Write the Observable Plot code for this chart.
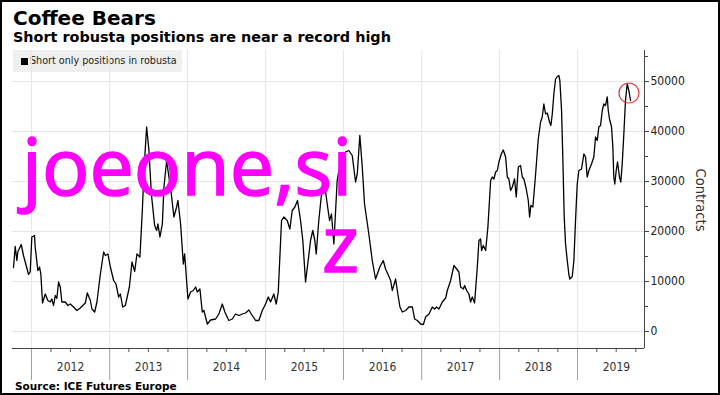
<!DOCTYPE html>
<html>
<head>
<meta charset="utf-8">
<script src="https://cdn.jsdelivr.net/npm/d3@7"></script>
<script src="https://cdn.jsdelivr.net/npm/@observablehq/plot@0.6"></script>
<style>
  html, body { margin: 0; padding: 0; background: #fff; }
  #wrap { position: relative; width: 720px; height: 395px; overflow: hidden; background: #fff; }
  #wrap > * { position: absolute; }
  .t { font-family: "DejaVu Sans", sans-serif; line-height: 1; white-space: nowrap; color: #000; }
  #title { left: 13px; top: 8px; font-size: 20px; font-weight: bold; }
  #subtitle { left: 13px; top: 30px; font-size: 14.4px; font-weight: bold; }
  #source { left: 15px; top: 381px; font-size: 10.5px; font-weight: bold; }
  #legend { left: 13px; top: 50px; width: 169px; height: 22px; background: #efefef; }
  #legend .sw { position: absolute; left: 8px; top: 8px; width: 7px; height: 7px; background: #000; }
  #legend .lab { position: absolute; left: 17px; top: 6px; font-family: "DejaVu Sans Condensed", "DejaVu Sans", sans-serif; font-stretch: condensed; font-size: 10.7px; line-height: 1; color: #222; white-space: nowrap; }
  #ylabel { left: 701px; top: 200px; transform: translate(-50%, -50%) rotate(90deg); font-family: "DejaVu Sans Condensed", "DejaVu Sans", sans-serif; font-stretch: condensed; font-size: 14.5px; line-height: 1; color: #333; white-space: nowrap; }
  #frame { left: 0; top: 0; width: 720px; height: 395px; box-sizing: border-box; border: 2px solid #000; pointer-events: none; }
  #mark { left: 0; top: 0; }
  #err { left: 20px; top: 300px; font: 11px monospace; color: #c00; white-space: pre; }
</style>
</head>
<body>
<div id="wrap">
  <div id="legend"><span class="sw"></span><span class="lab">Short only positions in robusta</span></div>
  <div id="chart" style="left:0;top:0;width:720px;height:395px"></div>
  <div id="title" class="t">Coffee Bears</div>
  <div id="subtitle" class="t">Short robusta positions are near a record high</div>
  <div id="source" class="t">Source: ICE Futures Europe</div>
  <div id="ylabel">Contracts</div>
  <svg id="mark" width="720" height="395">
    <text font-family="Open Sans" font-size="79" fill="#ff00ff" stroke="#ff00ff" stroke-width="1.6"><tspan x="22" y="195">joeone,si</tspan><tspan x="322" y="272">z</tspan></text>
  </svg>
  <div id="frame"></div>
  <div id="err"></div>
</div>
<script>
// Dates as decimal years, short-only positions in robusta (contracts)
const dates = [
  2011.769, 2011.791, 2011.812, 2011.824, 2011.868, 2011.897, 2011.962, 2011.983, 2012.004, 2012.038,
  2012.047, 2012.081, 2012.103, 2012.119, 2012.141, 2012.176, 2012.209, 2012.240, 2012.260, 2012.282,
  2012.304, 2012.324, 2012.346, 2012.368, 2012.388, 2012.432, 2012.465, 2012.496, 2012.538, 2012.581,
  2012.624, 2012.688, 2012.714, 2012.753, 2012.773, 2012.808, 2012.837, 2012.881, 2012.923, 2012.945,
  2012.978, 2013.009, 2013.051, 2013.081, 2013.115, 2013.137, 2013.167, 2013.201, 2013.253, 2013.286,
  2013.321, 2013.350, 2013.388, 2013.419, 2013.440, 2013.474, 2013.504, 2013.535, 2013.577, 2013.603,
  2013.619, 2013.645, 2013.676, 2013.696, 2013.731, 2013.760, 2013.791, 2013.824, 2013.859, 2013.876,
  2013.910, 2013.945, 2013.962, 2014.004, 2014.038, 2014.073, 2014.103, 2014.124, 2014.158, 2014.188,
  2014.209, 2014.253, 2014.295, 2014.359, 2014.401, 2014.445, 2014.478, 2014.529, 2014.573, 2014.615,
  2014.658, 2014.701, 2014.744, 2014.786, 2014.817, 2014.872, 2014.914, 2014.958, 2015.000, 2015.035,
  2015.064, 2015.106, 2015.137, 2015.163, 2015.205, 2015.235, 2015.278, 2015.312, 2015.342, 2015.376,
  2015.410, 2015.449, 2015.478, 2015.513, 2015.547, 2015.577, 2015.606, 2015.632, 2015.650, 2015.683,
  2015.718, 2015.747, 2015.791, 2015.821, 2015.846, 2015.876, 2015.919, 2015.962, 2016.013, 2016.068,
  2016.112, 2016.154, 2016.176, 2016.209, 2016.240, 2016.269, 2016.324, 2016.368, 2016.410, 2016.465,
  2016.509, 2016.538, 2016.568, 2016.603, 2016.624, 2016.667, 2016.688, 2016.722, 2016.753, 2016.795,
  2016.837, 2016.881, 2016.910, 2016.945, 2016.987, 2017.022, 2017.051, 2017.094, 2017.137, 2017.167,
  2017.192, 2017.222, 2017.265, 2017.308, 2017.329, 2017.372, 2017.414, 2017.449, 2017.478, 2017.500,
  2017.535, 2017.551, 2017.577, 2017.606, 2017.628, 2017.650, 2017.679, 2017.714, 2017.735, 2017.756,
  2017.769, 2017.791, 2017.821, 2017.850, 2017.885, 2017.906, 2017.927, 2017.949, 2017.971, 2017.991,
  2018.022, 2018.047, 2018.077, 2018.099, 2018.119, 2018.141, 2018.163, 2018.192, 2018.214, 2018.240,
  2018.269, 2018.291, 2018.312, 2018.342, 2018.368, 2018.385, 2018.401, 2018.427, 2018.462, 2018.496,
  2018.526, 2018.547, 2018.568, 2018.590, 2018.612, 2018.641, 2018.658, 2018.676, 2018.696, 2018.718,
  2018.740, 2018.760, 2018.773, 2018.795, 2018.812, 2018.829, 2018.846, 2018.868, 2018.888, 2018.901,
  2018.932, 2018.953, 2018.974, 2018.996, 2019.017, 2019.051, 2019.081, 2019.103, 2019.124, 2019.145,
  2019.179, 2019.209, 2019.231, 2019.253, 2019.273, 2019.295, 2019.317, 2019.337, 2019.359, 2019.381,
  2019.394, 2019.410, 2019.436, 2019.453, 2019.465, 2019.478, 2019.496, 2019.513, 2019.538, 2019.555,
  2019.573, 2019.594, 2019.615, 2019.637, 2019.658, 2019.680
];
const contracts = [
  12800, 17000, 14200, 15900, 17400, 15200, 11400, 11900, 18900, 19200,
  16900, 12200, 12900, 11500, 5700, 7500, 6200, 5900, 6500, 5200,
  7200, 6600, 9900, 8900, 5900, 5900, 5200, 5500, 4900, 4200,
  4700, 5700, 7700, 6200, 4500, 3900, 5900, 11500, 15900, 15200,
  15500, 12900, 10200, 9500, 6900, 7500, 4900, 5200, 8900, 13900,
  12000, 15500, 14900, 24200, 32200, 40900, 36200, 27500, 21200, 20200,
  21500, 18900, 21500, 28900, 34200, 30900, 27500, 22900, 24900, 26200,
  21500, 13500, 15500, 6500, 7900, 8200, 8900, 7900, 8500, 3900,
  4200, 1500, 2300, 2500, 3500, 5500, 3900, 2200, 2500, 3500,
  3200, 3500, 3700, 4300, 3500, 2200, 2200, 4200, 5500, 6900,
  5900, 7500, 5500, 7900, 22200, 22900, 22200, 20500, 24200, 24900,
  26200, 22200, 18200, 9900, 14200, 18200, 20200, 18200, 15500, 22200,
  27500, 30900, 25500, 22200, 23500, 17500, 30200, 34000, 35800, 36200,
  35200, 29900, 31500, 39200, 32900, 25500, 19500, 14200, 10500, 12900,
  14200, 12500, 11500, 10200, 8200, 10500, 8200, 4900, 3900, 4200,
  4900, 4900, 2500, 2200, 1500, 1400, 2900, 3500, 4900, 4500,
  4900, 4500, 5900, 6700, 8200, 10200, 13200, 12500, 11900, 8900,
  8500, 9200, 8200, 7500, 5900, 6900, 5700, 12900, 18200, 18500,
  16200, 17200, 16200, 20900, 30200, 30900, 30500, 31900, 32200, 33900,
  35500, 36300, 34900, 30900, 30500, 28200, 28900, 30500, 26900, 32900,
  33200, 30900, 30500, 28500, 26200, 22900, 25200, 24900, 31500, 38500,
  41900, 42900, 45500, 43500, 43700, 41900, 41200, 43500, 47500, 50500,
  51000, 51200, 50200, 44200, 34200, 22900, 17500, 14200, 11500, 10500,
  11000, 14200, 22200, 29500, 32200, 32500, 35500, 34900, 30900, 32200,
  33500, 34900, 38900, 38200, 40900, 41200, 44200, 45500, 45200, 46900,
  44200, 42500, 40900, 36900, 30900, 29500, 32200, 33900, 30900, 29900,
  33500, 39500, 46200, 49500, 48200, 46200
];
const years = [2012, 2013, 2014, 2015, 2016, 2017, 2018, 2019];
const yTicks = [0, 10000, 20000, 30000, 40000, 50000];
const yMinor = [5000, 15000, 25000, 35000, 45000, 55000];
const xDomainYears = [2011.756, 2019.859];
const yDomain = [-3400, 56200];
const highlightDate = [2019.660];
const highlightValue = [47700];

function toDate(t) {
  const y = Math.floor(t);
  const s = Date.UTC(y, 0, 1), e = Date.UTC(y + 1, 0, 1);
  return new Date(s + (t - y) * (e - s));
}

try {
  const rows = dates.map((t, i) => ({date: toDate(t), value: contracts[i]}));
  const highlight = highlightDate.map((t, i) => ({date: toDate(t), value: highlightValue[i]}));
  const xDomain = xDomainYears.map(toDate);
  const yearStarts = years.map(y => new Date(Date.UTC(y, 0, 1)));
  const midYears = years.map(y => new Date(Date.UTC(y, 6, 2)));
  const quarters = d3.utcMonth.every(3).range(xDomain[0], xDomain[1]).filter(d => d.getUTCMonth() !== 0);
  const condensed = '"DejaVu Sans Condensed", "DejaVu Sans", sans-serif';

  const svg = Plot.plot({
    width: 720,
    height: 395,
    marginTop: 50,
    marginRight: 76,
    marginBottom: 47,
    marginLeft: 12,
    style: {background: "transparent", fontFamily: condensed, fontSize: "12px", color: "#333"},
    x: {type: "utc", domain: xDomain, axis: null},
    y: {domain: yDomain, axis: null},
    marks: [
      Plot.ruleY(yTicks, {stroke: "#e6e6e6", strokeWidth: 1}),
      Plot.ruleX(yearStarts, {stroke: "#e6e6e6", strokeWidth: 1}),
      Plot.axisX(yearStarts, {anchor: "bottom", tickSize: 32, tickFormat: () => "", stroke: "#a0a0a0", label: null}),
      Plot.axisX(quarters, {anchor: "bottom", tickSize: 4, tickFormat: () => "", stroke: "#555", label: null}),
      Plot.ruleY([yDomain[0]], {stroke: "#444"}),
      Plot.ruleX([xDomain[1]], {stroke: "#444"}),
      Plot.axisY(yTicks, {anchor: "right", tickSize: 4, tickFormat: () => "", stroke: "#444", label: null}),
      Plot.axisY(yMinor, {anchor: "right", tickSize: 3, tickFormat: () => "", stroke: "#444", label: null}),
      Plot.text(midYears, {x: d => d, text: d => String(d.getUTCFullYear()), frameAnchor: "bottom", dy: 22, fill: "#333", fontSize: 12}),
      Plot.text(yTicks, {y: d => d, text: d => String(d), frameAnchor: "right", dx: 6, textAnchor: "start", fill: "#222", fontSize: 12}),
      Plot.line(rows, {x: "date", y: "value", stroke: "#000", strokeWidth: 1.3}),
      Plot.dot(highlight, {x: "date", y: "value", r: 10, stroke: "#e0383e", fill: "none", strokeWidth: 1.2})
    ]
  });
  svg.style.fontStretch = "condensed";
  document.getElementById("chart").appendChild(svg);
} catch (e) {
  document.getElementById("err").textContent = String(e && e.stack || e);
}
</script>
</body>
</html>
